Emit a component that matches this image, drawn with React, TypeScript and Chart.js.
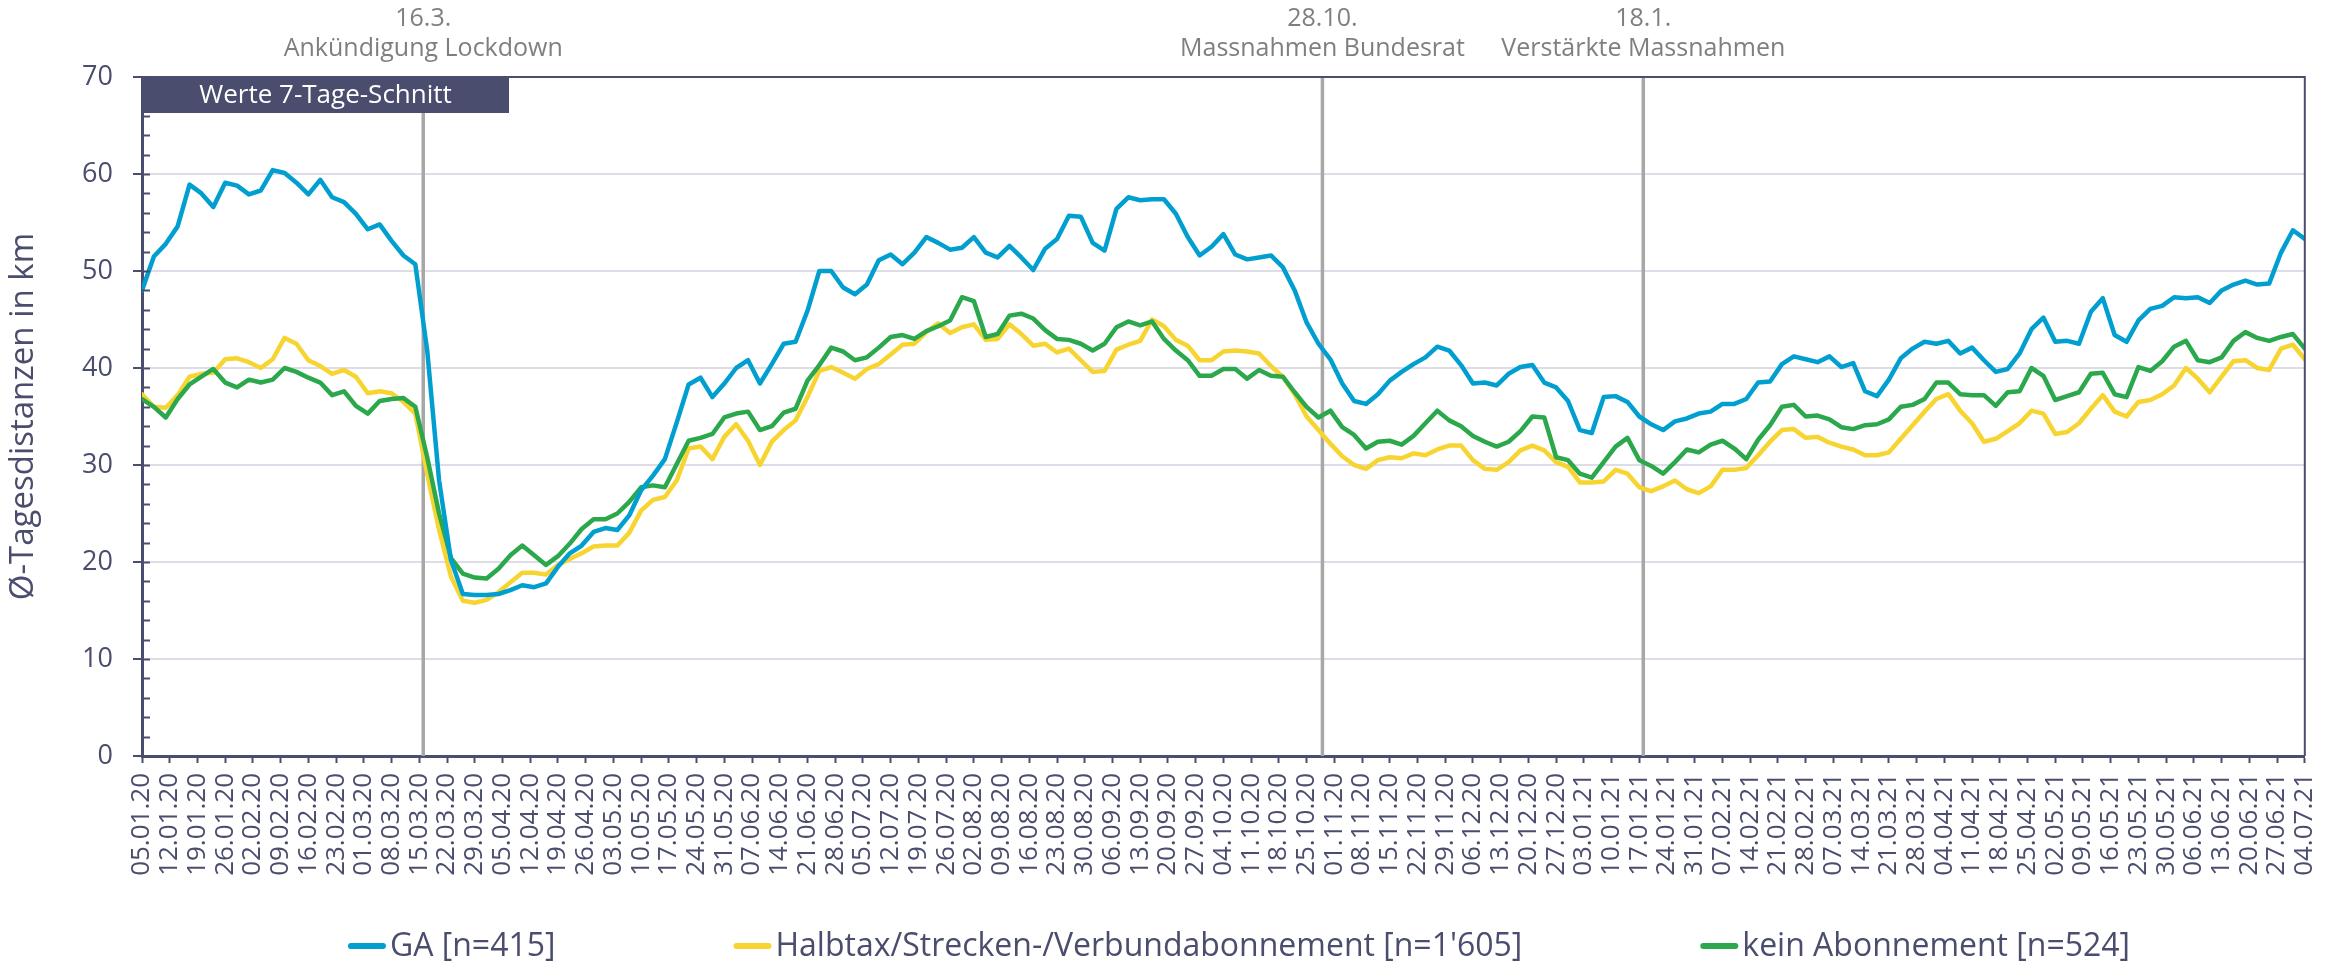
import React, { useEffect, useRef } from "react";
import { Chart, registerables } from "chart.js";

Chart.register(...registerables);

// ---------- data ----------
const STEP_DAYS = 3; // one value every 3 days, starting 05.01.20 (day 0)
const WEEK_DAYS = 7;

const weekLabels = [
  "05.01.20", "12.01.20", "19.01.20", "26.01.20", "02.02.20", "09.02.20", "16.02.20", "23.02.20",
  "01.03.20", "08.03.20", "15.03.20", "22.03.20", "29.03.20", "05.04.20", "12.04.20", "19.04.20",
  "26.04.20", "03.05.20", "10.05.20", "17.05.20", "24.05.20", "31.05.20", "07.06.20", "14.06.20",
  "21.06.20", "28.06.20", "05.07.20", "12.07.20", "19.07.20", "26.07.20", "02.08.20", "09.08.20",
  "16.08.20", "23.08.20", "30.08.20", "06.09.20", "13.09.20", "20.09.20", "27.09.20", "04.10.20",
  "11.10.20", "18.10.20", "25.10.20", "01.11.20", "08.11.20", "15.11.20", "22.11.20", "29.11.20",
  "06.12.20", "13.12.20", "20.12.20", "27.12.20", "03.01.21", "10.01.21", "17.01.21", "24.01.21",
  "31.01.21", "07.02.21", "14.02.21", "21.02.21", "28.02.21", "07.03.21", "14.03.21", "21.03.21",
  "28.03.21", "04.04.21", "11.04.21", "18.04.21", "25.04.21", "02.05.21", "09.05.21", "16.05.21",
  "23.05.21", "30.05.21", "06.06.21", "13.06.21", "20.06.21", "27.06.21", "04.07.21",
];

const gaValues = [
  48.0, 51.5, 52.8, 54.6, 58.9, 58.0, 56.6, 59.1, 58.8, 57.9, 58.3, 60.4, 60.1, 59.1, 57.9, 59.4,
  57.6, 57.1, 55.9, 54.3, 54.8, 53.1, 51.6, 50.7, 41.8, 28.4, 20.2, 16.7, 16.6, 16.6, 16.7,
  17.1, 17.6, 17.4, 17.8, 19.5, 20.9, 21.7, 23.1, 23.5, 23.3, 24.8, 27.4, 28.9, 30.6, 34.4, 38.3,
  39.0, 37.0, 38.4, 40.0, 40.8, 38.4, 40.4, 42.5, 42.7, 45.9, 50.0, 50.0, 48.3, 47.6,
  48.6, 51.1, 51.7, 50.7, 51.9, 53.5, 52.9, 52.2, 52.4, 53.5, 51.9, 51.4, 52.6, 51.4, 50.1, 52.3,
  53.3, 55.7, 55.6, 52.9, 52.1, 56.4, 57.6, 57.3, 57.4, 57.4, 55.9, 53.5, 51.6, 52.5,
  53.8, 51.7, 51.2, 51.4, 51.6, 50.4, 48.0, 44.7, 42.5, 40.9, 38.4, 36.6, 36.3, 37.3, 38.7, 39.6,
  40.4, 41.1, 42.2, 41.8, 40.3, 38.4, 38.5, 38.2, 39.4, 40.1, 40.3, 38.5, 38.0, 36.6, 33.6,
  33.3, 37.0, 37.1, 36.5, 35.0, 34.2, 33.6, 34.5, 34.8, 35.3, 35.5, 36.3, 36.3, 36.8, 38.5, 38.6,
  40.4, 41.2, 40.9, 40.6, 41.2, 40.1, 40.5, 37.6, 37.1, 38.8, 41.0, 42.0, 42.7, 42.5,
  42.8, 41.5, 42.1, 40.8, 39.6, 39.9, 41.5, 44.0, 45.2, 42.7, 42.8, 42.5, 45.8, 47.2, 43.4, 42.7,
  44.9, 46.1, 46.4, 47.3, 47.2, 47.3, 46.7, 48.0, 48.6, 49.0, 48.6, 48.7, 51.9, 54.2, 53.3,
];

const halbtaxValues = [
  37.3, 36.0, 35.9, 37.2, 39.1, 39.4, 39.5, 40.9, 41.0, 40.6, 40.0, 40.9, 43.1, 42.5, 40.8, 40.2,
  39.4, 39.8, 39.1, 37.4, 37.6, 37.4, 36.5, 35.3, 29.1, 23.3, 18.5, 16.0, 15.8, 16.1, 16.9,
  17.9, 18.9, 18.9, 18.7, 19.7, 20.3, 20.9, 21.6, 21.7, 21.7, 23.0, 25.3, 26.4, 26.7, 28.4, 31.7,
  31.9, 30.6, 32.9, 34.2, 32.5, 30.0, 32.4, 33.6, 34.6, 37.0, 39.7, 40.1, 39.5, 38.9,
  39.9, 40.4, 41.4, 42.4, 42.5, 43.7, 44.6, 43.6, 44.2, 44.5, 42.9, 43.0, 44.5, 43.5, 42.3, 42.5,
  41.6, 42.0, 40.8, 39.6, 39.7, 41.9, 42.4, 42.8, 45.0, 44.3, 42.9, 42.3, 40.8, 40.8,
  41.7, 41.8, 41.7, 41.5, 40.2, 39.1, 37.3, 35.0, 33.6, 32.2, 30.9, 30.0, 29.6, 30.5, 30.8, 30.7,
  31.2, 31.0, 31.6, 32.0, 32.0, 30.5, 29.6, 29.5, 30.3, 31.5, 32.0, 31.5, 30.3, 29.8, 28.2,
  28.2, 28.3, 29.5, 29.1, 27.7, 27.3, 27.8, 28.4, 27.5, 27.1, 27.8, 29.5, 29.5, 29.7, 31.0, 32.4,
  33.6, 33.7, 32.8, 32.9, 32.3, 31.9, 31.6, 31.0, 31.0, 31.3, 32.7, 34.1, 35.5, 36.8,
  37.3, 35.6, 34.3, 32.4, 32.7, 33.5, 34.3, 35.6, 35.3, 33.2, 33.4, 34.3, 35.8, 37.2, 35.5, 35.0,
  36.5, 36.7, 37.3, 38.2, 40.0, 38.9, 37.5, 39.1, 40.7, 40.8, 40.0, 39.8, 42.0, 42.4, 40.9,
];

const keinAboValues = [
  36.8, 36.0, 34.9, 36.8, 38.3, 39.1, 39.9, 38.5, 38.0, 38.8, 38.5, 38.8, 40.0, 39.6, 39.0, 38.5,
  37.2, 37.6, 36.1, 35.3, 36.6, 36.8, 36.9, 36.0, 30.8, 25.0, 20.4, 18.8, 18.4, 18.3, 19.3,
  20.7, 21.7, 20.7, 19.7, 20.6, 21.9, 23.4, 24.4, 24.4, 25.0, 26.2, 27.7, 27.9, 27.7, 30.1, 32.5,
  32.8, 33.2, 34.9, 35.3, 35.5, 33.6, 34.0, 35.4, 35.8, 38.7, 40.3, 42.1, 41.7, 40.8,
  41.1, 42.1, 43.2, 43.4, 43.0, 43.8, 44.3, 44.9, 47.3, 46.9, 43.2, 43.5, 45.4, 45.6, 45.1, 43.9,
  43.0, 42.9, 42.5, 41.8, 42.5, 44.2, 44.8, 44.4, 44.8, 43.0, 41.8, 40.8, 39.2, 39.2,
  39.9, 39.9, 38.9, 39.8, 39.2, 39.1, 37.5, 36.0, 34.9, 35.6, 33.9, 33.1, 31.7, 32.4, 32.5, 32.1,
  33.0, 34.3, 35.6, 34.6, 34.0, 33.0, 32.4, 31.9, 32.4, 33.5, 35.0, 34.9, 30.8, 30.5, 29.1,
  28.7, 30.3, 31.9, 32.8, 30.5, 29.9, 29.1, 30.3, 31.6, 31.3, 32.1, 32.5, 31.7, 30.6, 32.6, 34.1,
  36.0, 36.2, 35.0, 35.1, 34.7, 33.9, 33.7, 34.1, 34.2, 34.7, 36.0, 36.2, 36.8, 38.5,
  38.5, 37.3, 37.2, 37.2, 36.1, 37.5, 37.6, 40.0, 39.2, 36.7, 37.1, 37.5, 39.4, 39.5, 37.3, 37.0,
  40.1, 39.7, 40.7, 42.2, 42.8, 40.8, 40.6, 41.1, 42.8, 43.7, 43.1, 42.8, 43.2, 43.5, 42.0,
];

const seriesNames = [
  "GA [n=415]",
  "Halbtax/Strecken-/Verbundabonnement [n=1'605]",
  "kein Abonnement [n=524]",
];
const seriesColors = ["#009FD0", "#F7D42F", "#2BA84B"];

const eventDays = [71, 298, 379];
const eventDates = ["16.3.", "28.10.", "18.1."];
const eventTexts = ["Ankündigung Lockdown", "Massnahmen Bundesrat", "Verstärkte Massnahmen"];

const badgeText = "Werte 7-Tage-Schnitt";
const yAxisTitle = "Ø-Tagesdistanzen in km";
const Y_MIN = 0;
const Y_MAX = 70;
const Y_MINOR_STEP = 2;
const Y_MAJOR_STEP = 10;

// ---------- style ----------
const NAVY = "#4A4D6D";
const GRID = "#DEDDE7";
const EVENT_LINE = "#A7A7A7";
const EVENT_TEXT = "#7F7F7F";
const FONT = "'Open Sans', 'Noto Sans', sans-serif";

const W = 2346;
const H = 968;

function toPoints(values: number[]) {
  return values.map((y, i) => ({ x: i * STEP_DAYS, y }));
}

const decorPlugin = {
  id: "decor",
  beforeDatasetsDraw(chart: any) {
    const { ctx, chartArea: a, scales } = chart;
    ctx.save();
    ctx.strokeStyle = EVENT_LINE;
    ctx.lineWidth = 3.5;
    eventDays.forEach((d) => {
      const px = scales.x.getPixelForValue(d);
      ctx.beginPath();
      ctx.moveTo(px, a.top);
      ctx.lineTo(px, a.bottom);
      ctx.stroke();
    });
    ctx.restore();
  },
  afterDatasetsDraw(chart: any) {
    const { ctx, chartArea: a, scales } = chart;
    ctx.save();
    ctx.strokeStyle = NAVY;
    ctx.lineWidth = 2;
    ctx.beginPath();
    ctx.moveTo(a.left, a.top);
    ctx.lineTo(a.right, a.top);
    ctx.lineTo(a.right, a.bottom);
    ctx.stroke();
    scales.y.ticks.forEach((t: any) => {
      const py = Math.round(scales.y.getPixelForValue(t.value)) + 0.5;
      ctx.beginPath();
      ctx.moveTo(a.left, py);
      ctx.lineTo(a.left + 8, py);
      ctx.stroke();
    });
    const bw = 367;
    const bh = 36;
    ctx.fillStyle = NAVY;
    ctx.fillRect(a.left, a.top, bw, bh);
    ctx.fillStyle = "#FFFFFF";
    ctx.font = `26px ${FONT}`;
    ctx.textAlign = "center";
    ctx.textBaseline = "middle";
    ctx.fillText(badgeText, a.left + bw / 2, a.top + bh / 2 + 1);
    ctx.restore();
  },
  afterDraw(chart: any) {
    const { ctx, scales } = chart;
    ctx.save();
    ctx.fillStyle = EVENT_TEXT;
    ctx.font = `25px ${FONT}`;
    ctx.textAlign = "center";
    ctx.textBaseline = "middle";
    eventDays.forEach((d, i) => {
      const px = scales.x.getPixelForValue(d);
      ctx.fillText(eventDates[i], px, 19);
      ctx.fillText(eventTexts[i], px, 49);
    });
    ctx.font = `32px ${FONT}`;
    const sampleW = 38;
    const sampleGap = 4;
    const itemGap = 178;
    const widths = seriesNames.map((n) => sampleW + sampleGap + ctx.measureText(n).width);
    const total = widths.reduce((s, w) => s + w, 0) + itemGap * (seriesNames.length - 1);
    let x = 1239 - total / 2;
    const y = 946;
    ctx.textAlign = "left";
    ctx.textBaseline = "middle";
    seriesNames.forEach((n, i) => {
      ctx.strokeStyle = seriesColors[i];
      ctx.lineWidth = 6;
      ctx.lineCap = "round";
      ctx.beginPath();
      ctx.moveTo(x + 3, y);
      ctx.lineTo(x + sampleW - 3, y);
      ctx.stroke();
      ctx.fillStyle = NAVY;
      ctx.fillText(n, x + sampleW + sampleGap, y + 1);
      x += widths[i] + itemGap;
    });
    ctx.restore();
  },
};

export default function App() {
  const canvasRef = useRef<HTMLCanvasElement | null>(null);

  useEffect(() => {
    document.body.style.margin = "0";
    document.body.style.overflow = "hidden";
    const canvas = canvasRef.current;
    if (!canvas) return;
    const lastDay = (gaValues.length - 1) * STEP_DAYS;
    const seriesValues = [gaValues, halbtaxValues, keinAboValues];
    const drawOrder = [0, 2, 1];

    const chart = new Chart(canvas, {
      type: "line",
      data: {
        datasets: seriesValues.map((vals, i) => ({
          label: seriesNames[i],
          data: toPoints(vals),
          borderColor: seriesColors[i],
          backgroundColor: seriesColors[i],
          borderWidth: 4.5,
          pointRadius: 0,
          tension: 0,
          borderJoinStyle: "round" as const,
          borderCapStyle: "round" as const,
          order: drawOrder[i],
        })),
      },
      options: {
        animation: false,
        responsive: true,
        maintainAspectRatio: false,
        devicePixelRatio: 1,
        layout: { padding: { left: 0, right: 41, top: 77, bottom: 0 } },
        plugins: {
          legend: { display: false },
          tooltip: { enabled: false },
          title: { display: false },
        },
        scales: {
          x: {
            type: "linear",
            min: 0,
            max: lastDay,
            ticks: {
              stepSize: WEEK_DAYS,
              autoSkip: false,
              minRotation: 90,
              maxRotation: 90,
              padding: 10,
              color: NAVY,
              font: { family: FONT, size: 26 },
              callback: (v: any) => weekLabels[Math.round(Number(v) / WEEK_DAYS)] ?? "",
            },
            grid: {
              drawOnChartArea: false,
              drawTicks: true,
              tickLength: 7,
              tickColor: NAVY,
              tickWidth: 2,
            },
            border: { display: true, color: NAVY, width: 3 },
            afterFit: (s: any) => {
              s.height = 212;
            },
          },
          y: {
            type: "linear",
            min: Y_MIN,
            max: Y_MAX,
            ticks: {
              stepSize: Y_MINOR_STEP,
              autoSkip: false,
              padding: 20,
              color: NAVY,
              font: { family: FONT, size: 27 },
              callback: (v: any) => (Number(v) % Y_MAJOR_STEP === 0 ? String(v) : ""),
            },
            grid: {
              drawOnChartArea: true,
              drawTicks: true,
              tickLength: 9,
              lineWidth: 2,
              color: (c: any) => {
                const v = c.tick ? c.tick.value : 0;
                return v % Y_MAJOR_STEP === 0 && v !== Y_MIN && v !== Y_MAX ? GRID : "rgba(0,0,0,0)";
              },
              tickColor: (c: any) => {
                const v = c.tick ? c.tick.value : 0;
                return v % Y_MAJOR_STEP === 0 ? NAVY : "rgba(0,0,0,0)";
              },
              tickWidth: 2,
            },
            border: { display: true, color: NAVY, width: 3 },
            title: {
              display: true,
              text: yAxisTitle,
              color: NAVY,
              font: { family: FONT, size: 33 },
              padding: { top: 4, bottom: 0 },
            },
            afterFit: (s: any) => {
              s.width = 142;
            },
          },
        },
      },
      plugins: [decorPlugin],
    });
    return () => chart.destroy();
  }, []);

  return (
    <div style={{ width: W, height: H, position: "relative", background: "#FFFFFF" }}>
      <canvas ref={canvasRef} />
    </div>
  );
}
